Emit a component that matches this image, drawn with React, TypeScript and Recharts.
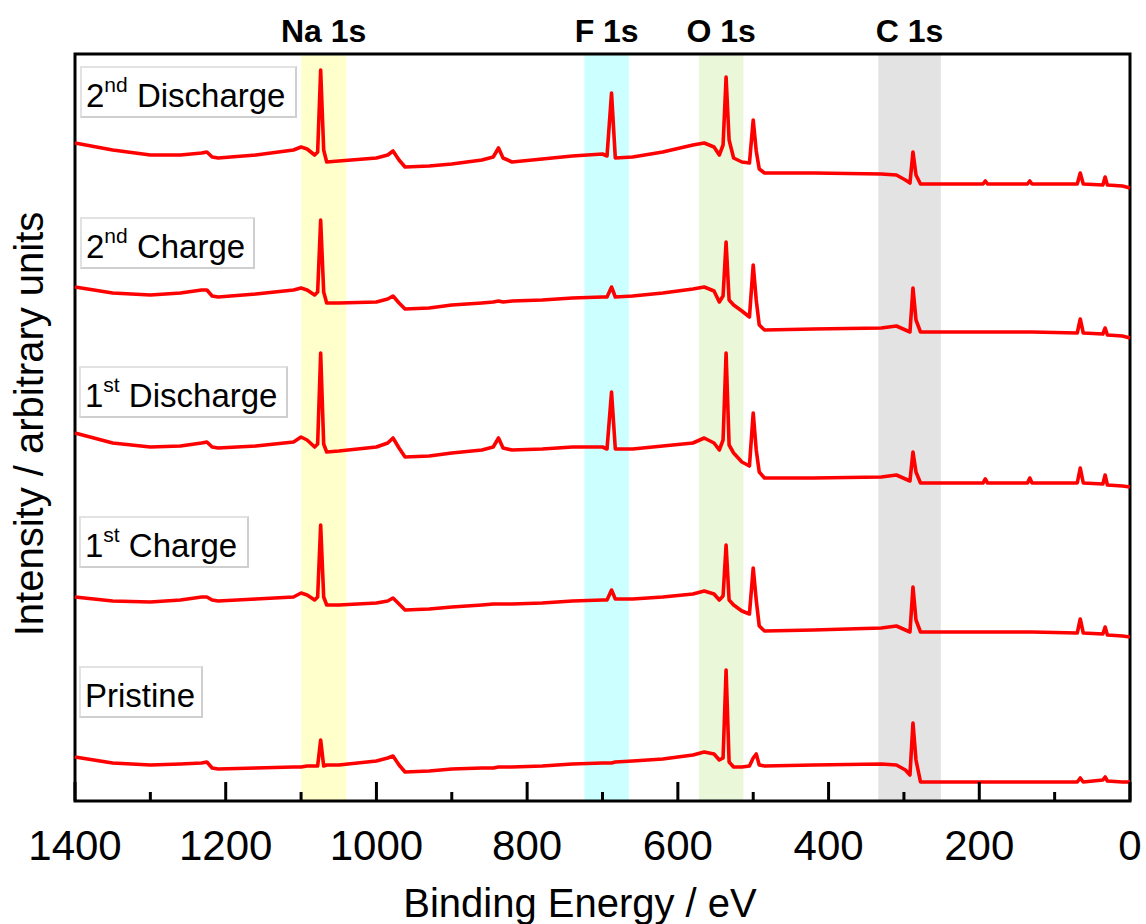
import { LineChart, Line, XAxis, YAxis, ReferenceArea } from 'recharts';

// binding energies (eV) shared by all five survey spectra
const energies = [
  1400, 1350, 1300, 1260, 1232, 1225, 1218, 1210, 1160, 1110,
  1100, 1092, 1082, 1078, 1074, 1070, 1066, 1050, 1000, 985,
  978, 970, 962, 930, 900, 860, 845, 838, 832, 820,
  780, 740, 700, 694, 688, 683, 660, 620, 580, 565,
  552, 545, 540, 536, 532, 526, 515, 505, 500, 496,
  492, 485, 420, 330, 310, 298, 292, 288, 284, 278,
  240, 195, 192, 189, 136, 133, 130, 70, 66, 62,
  36, 33, 30, 10, 0,
];

// intensities (arbitrary units, already offset per spectrum)
const secondDischarge = [
  658, 651, 646, 646, 648, 649, 644, 643, 646, 651,
  654, 652, 646, 649, 731, 651, 639, 640, 643, 646,
  650, 641, 634, 635, 637, 641, 644, 653, 643, 639,
  642, 645, 647, 645, 708, 643, 644, 649, 656, 658,
  654, 646, 656, 724, 661, 643, 639, 638, 681, 650,
  632, 628, 628, 627, 626, 621, 618, 649, 626, 617,
  617, 617, 620, 617, 617, 620, 617, 617, 628, 617,
  616, 624, 616, 615, 613,
];

const secondCharge = [
  514, 508, 506, 508, 511, 511, 505, 504, 507, 511,
  513, 511, 506, 509, 581, 509, 498, 498, 499, 502,
  505, 498, 492, 493, 496, 498, 499, 500, 499, 500,
  501, 503, 504, 504, 514, 504, 505, 508, 512, 514,
  510, 499, 505, 559, 501, 496, 490, 484, 536, 501,
  476, 471, 472, 473, 475, 471, 469, 513, 481, 469,
  469, 469, 469, 469, 469, 469, 469, 468, 482, 468,
  467, 473, 466, 465, 463,
];

const firstDischarge = [
  368, 358, 354, 355, 358, 359, 354, 353, 355, 359,
  364, 361, 354, 357, 448, 357, 349, 350, 354, 358,
  363, 353, 344, 345, 348, 351, 354, 363, 353, 351,
  352, 354, 354, 352, 409, 352, 352, 355, 358, 363,
  358, 351, 361, 448, 356, 348, 339, 335, 388, 351,
  329, 323, 323, 324, 326, 322, 320, 349, 329, 318,
  318, 318, 322, 318, 318, 323, 318, 318, 333, 318,
  317, 326, 316, 315, 314,
];

const firstCharge = [
  204, 200, 199, 201, 204, 204, 201, 200, 202, 204,
  208, 206, 201, 204, 276, 204, 196, 196, 198, 200,
  203, 197, 191, 192, 194, 196, 197, 197, 197, 197,
  198, 200, 201, 201, 211, 202, 202, 204, 207, 210,
  207, 201, 205, 256, 201, 196, 190, 187, 233, 201,
  175, 170, 171, 173, 175, 171, 169, 214, 181, 169,
  169, 169, 169, 169, 169, 169, 169, 168, 182, 168,
  167, 174, 166, 165, 164,
];

const pristine = [
  44, 38, 36, 37, 38, 39, 33, 32, 33, 34,
  34, 35, 35, 35, 61, 35, 36, 36, 40, 43,
  45, 36, 29, 30, 32, 33, 33, 34, 34, 34,
  35, 37, 38, 38, 38, 39, 40, 42, 46, 49,
  47, 41, 43, 131, 39, 34, 34, 35, 43, 47,
  36, 35, 36, 37, 36, 31, 26, 78, 41, 19,
  19, 19, 19, 19, 19, 19, 19, 19, 23, 19,
  21, 24, 20, 19, 19,
];

const xTicks = [0, 100, 200, 300, 400, 500, 600, 700, 800, 900, 1000, 1100, 1200, 1300, 1400];

const bandNames = ['Na 1s', 'F 1s', 'O 1s', 'C 1s'];
const bandFrom = [1100, 724, 572, 334];
const bandTo = [1040, 665, 513, 251];
const bandColors = ['#ffffcc', '#ccffff', '#ebf7d9', '#e3e3e3'];

const seriesKeys = ['pristine', 'charge1', 'discharge1', 'charge2', 'discharge2'];

const data = energies.map((e, i) => ({
  energy: e,
  pristine: pristine[i],
  charge1: firstCharge[i],
  discharge1: firstDischarge[i],
  charge2: secondCharge[i],
  discharge2: secondDischarge[i],
}));

const FONT = '"Liberation Sans", Arial, sans-serif';

function EnergyTick(props: any) {
  const { x, y, payload } = props;
  const v = payload.value;
  const major = v % 200 === 0;
  return (
    <g>
      <line x1={x} x2={x} y1={y} y2={y - (major ? 19 : 9)} stroke="#000" strokeWidth={3} />
      {major && (
        <text x={x} y={y + 59} textAnchor="middle" fontSize={42} fill="#000" fontFamily={FONT}>
          {v}
        </text>
      )}
    </g>
  );
}

// sample tags drawn in the upper left of each spectrum
const tags = [
  { pre: '2', sup: 'nd', text: ' Discharge', left: 80, top: 66, width: 217 },
  { pre: '2', sup: 'nd', text: ' Charge', left: 80, top: 217, width: 175 },
  { pre: '1', sup: 'st', text: ' Discharge', left: 79, top: 366, width: 209 },
  { pre: '1', sup: 'st', text: ' Charge', left: 79, top: 516, width: 170 },
  { pre: '', sup: '', text: 'Pristine', left: 79, top: 666, width: 124 },
];

export default function App() {
  return (
    <div style={{ position: 'absolute', left: 0, top: 0, width: 1146, height: 924, background: '#fff', fontFamily: FONT }}>
      <LineChart width={1146} height={924} data={data} margin={{ top: 54, right: 16, left: 75, bottom: 0 }}>
        {bandNames.map((name, i) => (
          <ReferenceArea
            key={name}
            x1={bandFrom[i]}
            x2={bandTo[i]}
            y1={0}
            y2={747}
            fill={bandColors[i]}
            fillOpacity={1}
            stroke="none"
            label={{ value: name, position: 'top', offset: 12, fontSize: 32, fontWeight: 'bold', fill: '#000', fontFamily: FONT }}
          />
        ))}
        <XAxis
          dataKey="energy"
          type="number"
          domain={[0, 1400]}
          reversed
          ticks={xTicks}
          interval={0}
          height={123}
          tickSize={0}
          tickMargin={0}
          tickLine={false}
          axisLine={false}
          tick={<EnergyTick />}
        />
        <YAxis hide width={0} type="number" domain={[0, 747]} />
        {seriesKeys.map((k) => (
          <Line
            key={k}
            type="linear"
            dataKey={k}
            stroke="#ff0000"
            strokeWidth={3.6}
            strokeLinejoin="round"
            dot={false}
            isAnimationActive={false}
          />
        ))}
        <ReferenceArea x1={1400} x2={0} y1={0} y2={747} fill="none" stroke="#000" strokeWidth={3} />
      </LineChart>

      <svg width={1146} height={924} style={{ position: 'absolute', left: 0, top: 0, pointerEvents: 'none' }}>
        <text x={580} y={917} textAnchor="middle" fontSize={40} fill="#000" fontFamily={FONT}>
          Binding Energy / eV
        </text>
        <text
          x={0}
          y={0}
          transform="translate(43, 424) rotate(-90)"
          textAnchor="middle"
          fontSize={40}
          fill="#000"
          fontFamily={FONT}
        >
          Intensity / arbitrary units
        </text>
      </svg>

      {tags.map((t) => (
        <div
          key={t.top}
          style={{
            position: 'absolute',
            left: t.left,
            top: t.top,
            width: t.width,
            height: 52,
            boxSizing: 'border-box',
            border: '2px solid #e2e2e2',
            borderBottomColor: '#cfcfcf',
            borderRightColor: '#cfcfcf',
            background: '#fff',
            paddingLeft: 4,
            paddingTop: 11,
            fontSize: 33,
            lineHeight: '33px',
            color: '#000',
            whiteSpace: 'nowrap',
          }}
        >
          {t.pre}
          {t.sup && <sup style={{ fontSize: 21, lineHeight: 0, verticalAlign: '15px' }}>{t.sup}</sup>}
          {t.text}
        </div>
      ))}
    </div>
  );
}
